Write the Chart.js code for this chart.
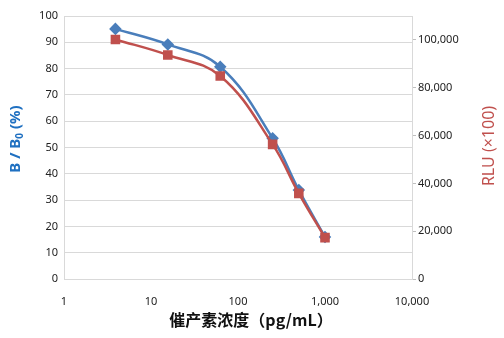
<!DOCTYPE html>
<html>
<head>
<meta charset="utf-8">
<script src="https://cdn.jsdelivr.net/npm/chart.js@4"></script>
<style>
  html, body { margin: 0; padding: 0; background: #fff; }
  #wrap { width: 504px; height: 338px; position: relative; }
</style>
</head>
<body>
<div id="wrap"><canvas id="grafico"></canvas></div>
<script>
// concentraciones (pg/mL) y respuestas
const concentraciones = [3.9, 15.6, 62.5, 250, 500, 1000];
const bB0 = [95.1, 89.2, 80.7, 53.5, 33.8, 16.0];
const rlu = [100200, 93700, 84900, 56300, 35800, 17300];
const ticksX = [1, 10, 100, 1000, 10000];
const ticksIzq = [0, 10, 20, 30, 40, 50, 60, 70, 80, 90, 100];
const ticksDer = [0, 20000, 40000, 60000, 80000, 100000];

const AZUL = '#4a7ebb';
const ROJO = '#c0504d';
const GRIS = '#d9d9d9';
const fuenteTicks = { family: "'Noto Sans', 'Noto Sans CJK JP', sans-serif", size: 11 };

// titulos de los ejes dibujados a mano (subindice en B0)
const titulos = {
    id: 'titulos',
    afterDraw(chart) {
        const ctx = chart.ctx;
        ctx.save();

        // eje izquierdo
        ctx.translate(16, 139);
        ctx.rotate(-Math.PI / 2);
        ctx.fillStyle = '#1f70c1';
        ctx.textBaseline = 'middle';
        const grande = "bold 15px 'Noto Sans', sans-serif";
        const chico = "bold 10px 'Noto Sans', sans-serif";
        const partes = [['B / B', grande, 0], ['0', chico, 4], [' (%)', grande, 0]];
        let ancho = 0;
        partes.forEach(p => { ctx.font = p[1]; ancho += ctx.measureText(p[0]).width; });
        let x = -ancho / 2;
        partes.forEach(p => {
            ctx.font = p[1];
            ctx.fillText(p[0], x, p[2]);
            x += ctx.measureText(p[0]).width;
        });
        ctx.restore();

        // eje derecho
        ctx.save();
        ctx.translate(489, 146);
        ctx.rotate(-Math.PI / 2);
        ctx.fillStyle = ROJO;
        ctx.textAlign = 'center';
        ctx.textBaseline = 'middle';
        ctx.font = "16px 'Noto Sans', sans-serif";
        ctx.fillText('RLU (×100)', 0, 0);
        ctx.restore();

        // eje x
        ctx.save();
        ctx.fillStyle = '#111';
        ctx.textAlign = 'center';
        ctx.textBaseline = 'middle';
        ctx.font = "bold 16px 'Noto Sans CJK SC', sans-serif";
        ctx.fillText('催产素浓度（pg/mL）', 251, 320);
        ctx.restore();
    }
};

const ctx1 = document.getElementById('grafico').getContext('2d');
new Chart(ctx1, {
    type: 'line',
    data: {
        datasets: [{
            label: 'RLU',
            data: concentraciones.map((c, i) => ({ x: c, y: rlu[i] })),
            yAxisID: 'y1',
            borderColor: ROJO,
            backgroundColor: ROJO,
            borderWidth: 2.5,
            pointStyle: 'rect',
            pointRadius: 5,
            pointHoverRadius: 5,
            tension: 0.4,
            order: 0
        }, {
            label: 'B/B0',
            data: concentraciones.map((c, i) => ({ x: c, y: bB0[i] })),
            yAxisID: 'y',
            borderColor: AZUL,
            backgroundColor: AZUL,
            borderWidth: 2.5,
            pointStyle: 'rectRot',
            pointRadius: 4.5,
            pointHoverRadius: 4.5,
            tension: 0.4,
            order: 1
        }]
    },
    options: {
        responsive: true,
        maintainAspectRatio: false,
        animation: false,
        layout: { padding: { top: 16, left: 0, right: 0, bottom: 0 } },
        plugins: { legend: { display: false }, tooltip: { enabled: false } },
        scales: {
            x: {
                type: 'logarithmic',
                min: 1,
                max: 10000,
                afterBuildTicks: s => { s.ticks = ticksX.map(v => ({ value: v, major: true })); },
                afterFit: s => { s.height = 59; },
                grid: { display: false },
                border: { display: true, color: GRIS },
                ticks: {
                    padding: 8,
                    color: '#222',
                    font: fuenteTicks,
                    autoSkip: false,
                    maxRotation: 0,
                    callback: v => Number(v).toLocaleString('en-US')
                }
            },
            y: {
                position: 'left',
                min: 0,
                max: 100,
                afterBuildTicks: s => { s.ticks = ticksIzq.map(v => ({ value: v })); },
                afterFit: s => { s.width = 64; },
                grid: { color: GRIS, drawTicks: false },
                border: { display: true, color: GRIS },
                ticks: { padding: 6, color: '#222', font: fuenteTicks, autoSkip: false }
            },
            y1: {
                position: 'right',
                min: 0,
                max: 110000,
                afterBuildTicks: s => { s.ticks = ticksDer.map(v => ({ value: v })); },
                afterFit: s => { s.width = 92; },
                grid: { drawOnChartArea: false, drawTicks: true, tickLength: 4, color: '#bfbfbf' },
                border: { display: true, color: GRIS },
                ticks: {
                    padding: 2,
                    color: '#222',
                    font: fuenteTicks,
                    autoSkip: false,
                    callback: v => Number(v).toLocaleString('en-US')
                }
            }
        }
    },
    plugins: [titulos]
});
</script>
</body>
</html>
